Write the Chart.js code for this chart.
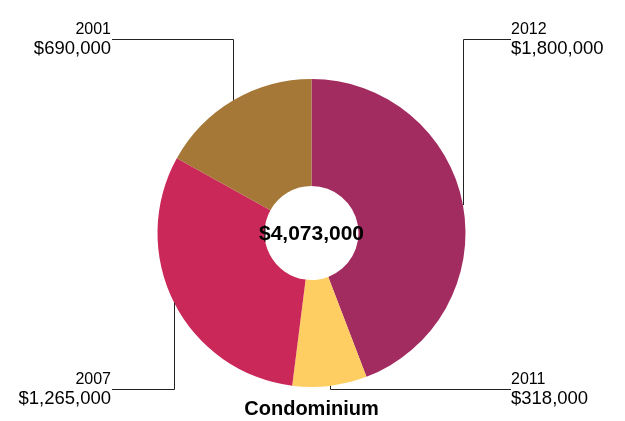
<!DOCTYPE html>
<html>
<head>
<meta charset="utf-8">
<script src="https://cdn.jsdelivr.net/npm/chart.js@4"></script>
<style>
  html, body { margin: 0; padding: 0; background: #fff; }
  #wrap { width: 625px; height: 421px; }
</style>
</head>
<body>
<div id="wrap"><canvas id="condoChart" width="625" height="421"></canvas></div>
<script>
// data
const years = ['2012', '2011', '2007', '2001'];
const amounts = [1800000, 318000, 1265000, 690000];
const sliceColors = ['#A22C60', '#FECE63', '#C92859', '#A57837'];
const chartTitle = 'Condominium';

const money = v => '$' + v.toLocaleString('en-US');
const total = amounts.reduce((a, b) => a + b, 0);

// leader lines + labels + center total + title
const calloutPlugin = {
    id: 'callouts',
    afterDatasetsDraw(chart) {
        const ctx = chart.ctx;
        const meta = chart.getDatasetMeta(0);
        const topY = 39, bottomY = 389;
        const leftX = 112, rightX = 511;

        ctx.save();
        meta.data.forEach((arc, i) => {
            const p = arc.getProps(['x', 'y', 'startAngle', 'endAngle', 'outerRadius'], true);
            const mid = (p.startAngle + p.endAngle) / 2;
            const ax = p.x + Math.cos(mid) * p.outerRadius;
            const ay = p.y + Math.sin(mid) * p.outerRadius;
            const isTop = ay < p.y;
            const isRight = ax > p.x;
            const ly = isTop ? topY : bottomY;
            const lx = isRight ? rightX : leftX;

            ctx.strokeStyle = '#222';
            ctx.lineWidth = 1;
            ctx.beginPath();
            ctx.moveTo(Math.round(ax) + 0.5, ay);
            ctx.lineTo(Math.round(ax) + 0.5, ly + 0.5);
            ctx.lineTo(lx, ly + 0.5);
            ctx.stroke();

            ctx.fillStyle = '#000';
            ctx.textAlign = isRight ? 'left' : 'right';
            ctx.textBaseline = 'alphabetic';
            const tx = isRight ? lx : lx - 1;
            ctx.font = '16px "Liberation Sans", Arial, sans-serif';
            ctx.fillText(years[i], tx, ly - 5);
            ctx.font = '18.5px "Liberation Sans", Arial, sans-serif';
            ctx.fillText(money(amounts[i]), tx, ly + 15);
        });

        const c = meta.data[0];
        ctx.textAlign = 'center';
        ctx.textBaseline = 'middle';
        ctx.font = 'bold 21px "Liberation Sans", Arial, sans-serif';
        ctx.fillText(money(total), c.x, c.y + 1);

        ctx.font = 'bold 20px "Liberation Sans", Arial, sans-serif';
        ctx.fillText(chartTitle, c.x, 409);
        ctx.restore();
    }
};

new Chart(document.getElementById('condoChart').getContext('2d'), {
    type: 'doughnut',
    data: {
        labels: years,
        datasets: [{
            data: amounts,
            backgroundColor: sliceColors,
            borderWidth: 0
        }]
    },
    options: {
        responsive: false,
        animation: false,
        cutout: '30.5%',
        layout: { padding: { top: 79, bottom: 34, left: 150, right: 152 } },
        plugins: {
            legend: { display: false },
            tooltip: { enabled: false },
            title: { display: false }
        }
    },
    plugins: [calloutPlugin]
});
</script>
</body>
</html>
